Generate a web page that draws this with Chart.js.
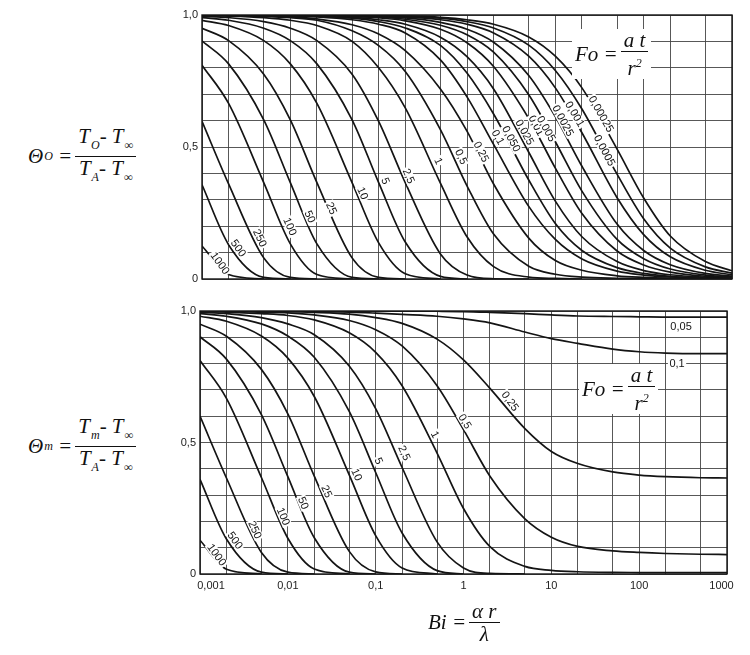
<!DOCTYPE html>
<html>
<head>
<meta charset="utf-8">
<title>Theta vs Bi for several Fo</title>
<script src="https://cdn.jsdelivr.net/npm/chart.js@4.4.1/dist/chart.umd.min.js"></script>
<style>
  html, body { margin: 0; padding: 0; background: #fff; }
  #page { position: relative; width: 750px; height: 655px; overflow: hidden; }
  .plot { position: absolute; left: 150px; width: 600px; }
  .eq { position: absolute; display: flex; align-items: center; white-space: nowrap;
        font-family: "Liberation Serif", "DejaVu Serif", serif; font-style: italic;
        font-size: 21px; color: #111; }
  .frac { display: inline-flex; flex-direction: column; align-items: center; margin-left: 3px; }
  .frac > span { display: block; line-height: 22px; padding: 0 3px; }
  .frac > span:first-child { border-bottom: 1px solid #111; }
  .eq sub { font-size: 12px; vertical-align: -6px; margin-left: 1px; }
  .eq sup { font-size: 12px; vertical-align: 8px; }
  .fo { background: #fff; padding: 0 3px; }
</style>
</head>
<body>
<div id="page">
  <div class="plot" style="top:0;height:292px"><canvas id="topChart"></canvas></div>
  <div class="plot" style="top:295px;height:360px"><canvas id="bottomChart"></canvas></div>

  <div class="eq" style="left:28px;top:125px">Θ<sub>O</sub>&nbsp;=<span class="frac"><span>T<sub>O</sub>-&nbsp;T<sub>∞</sub></span><span>T<sub>A</sub>-&nbsp;T<sub>∞</sub></span></span></div>
  <div class="eq" style="left:28px;top:415px">Θ<sub>m</sub>&nbsp;=<span class="frac"><span>T<sub>m</sub>-&nbsp;T<sub>∞</sub></span><span>T<sub>A</sub>-&nbsp;T<sub>∞</sub></span></span></div>
  <div class="eq" style="left:428px;top:600px">Bi&nbsp;=<span class="frac"><span>α r</span><span>λ</span></span></div>
  <div class="eq fo" style="left:572px;top:29px">Fo&nbsp;=<span class="frac"><span>a t</span><span>r<sup>2</sup></span></span></div>
  <div class="eq fo" style="left:579px;top:364px">Fo&nbsp;=<span class="frac"><span>a t</span><span>r<sup>2</sup></span></span></div>
</div>

<script>
// Bi values where the curves were read; they are also the vertical grid lines
const bi = [0.001, 0.002, 0.005, 0.01, 0.02, 0.05, 0.1, 0.2, 0.5, 1, 2, 5, 10, 20, 50, 100, 200, 500, 1000];
const decades = [0.001, 0.01, 0.1, 1, 10, 100, 1000];
const thetaTicks = [0, 0.1, 0.2, 0.3, 0.4, 0.5, 0.6, 0.7, 0.8, 0.9, 1];

// upper diagram: Theta_O, one array per Fo (values at the bi points)
const o1000 = [0.125, 0.017, 0];
const o500 = [0.357, 0.13, 0.006, 0];
const o250 = [0.597, 0.36, 0.08, 0.006, 0];
const o100 = [0.81, 0.665, 0.365, 0.133, 0.017, 0];
const o50 = [0.902, 0.815, 0.603, 0.365, 0.133, 0.006, 0];
const o25 = [0.95, 0.903, 0.776, 0.603, 0.365, 0.08, 0.006, 0];
const o10 = [0.98, 0.96, 0.903, 0.815, 0.665, 0.365, 0.137, 0.02, 0];
const o5 = [0.99, 0.98, 0.95, 0.903, 0.815, 0.603, 0.365, 0.14, 0.01, 0];
const o2_5 = [0.995, 0.99, 0.975, 0.95, 0.903, 0.776, 0.597, 0.365, 0.095, 0.015, 0.001, 0];
const o1 = [0.998, 0.996, 0.99, 0.98, 0.96, 0.9, 0.8, 0.648, 0.363, 0.16, 0.047, 0.007, 0.002, 0];
const o0_5 = [0.999, 0.998, 0.995, 0.99, 0.98, 0.94, 0.884, 0.786, 0.566, 0.353, 0.17, 0.048, 0.018, 0.007, 0.0025, 0.001, 0];
const o0_25 = [1, 0.999, 0.997, 0.993, 0.985, 0.963, 0.928, 0.865, 0.72, 0.56, 0.36, 0.155, 0.07, 0.033, 0.012, 0.006, 0.003, 0.0012, 0.0006];
const o0_1 = [1, 0.999, 0.998, 0.996, 0.993, 0.982, 0.965, 0.932, 0.83, 0.69, 0.51, 0.275, 0.15, 0.076, 0.03, 0.015, 0.0075, 0.003, 0.0015];
const o0_05 = [1, 1, 0.999, 0.998, 0.995, 0.988, 0.975, 0.951, 0.885, 0.78, 0.625, 0.375, 0.21, 0.108, 0.043, 0.021, 0.01, 0.004, 0.002];
const o0_025 = [1, 1, 0.999, 0.998, 0.996, 0.991, 0.982, 0.965, 0.916, 0.842, 0.72, 0.48, 0.295, 0.16, 0.066, 0.032, 0.016, 0.0065, 0.0032];
const o0_01 = [1, 1, 1, 0.999, 0.998, 0.994, 0.989, 0.978, 0.946, 0.895, 0.805, 0.608, 0.42, 0.248, 0.106, 0.053, 0.026, 0.0105, 0.0053];
const o0_005 = [1, 1, 1, 0.999, 0.998, 0.996, 0.992, 0.984, 0.961, 0.925, 0.859, 0.698, 0.52, 0.333, 0.15, 0.077, 0.038, 0.015, 0.0077];
const o0_0025 = [1, 1, 1, 1, 0.999, 0.997, 0.994, 0.989, 0.972, 0.946, 0.897, 0.771, 0.615, 0.427, 0.208, 0.108, 0.054, 0.021, 0.011];
const o0_001 = [1, 1, 1, 1, 1, 0.998, 0.996, 0.993, 0.982, 0.965, 0.932, 0.844, 0.724, 0.554, 0.308, 0.168, 0.084, 0.033, 0.016];
const o0_0005 = [1, 1, 1, 1, 1, 0.999, 0.998, 0.995, 0.988, 0.975, 0.951, 0.886, 0.79, 0.644, 0.397, 0.228, 0.117, 0.046, 0.022];
const o0_00025 = [1, 1, 1, 1, 1, 0.999, 0.998, 0.996, 0.991, 0.982, 0.965, 0.917, 0.844, 0.724, 0.492, 0.307, 0.163, 0.066, 0.031];

const topFo = ['1000', '500', '250', '100', '50', '25', '10', '5', '2,5', '1', '0,5', '0,25', '0,1',
  '0,050', '0,025', '0,01', '0,005', '0,0025', '0,001', '0,0005', '0,00025'];
const topCurves = [o1000, o500, o250, o100, o50, o25, o10, o5, o2_5, o1, o0_5, o0_25, o0_1,
  o0_05, o0_025, o0_01, o0_005, o0_0025, o0_001, o0_0005, o0_00025];
// where each Fo tag sits (Bi, Theta)
const topTagBi = [0.0016, 0.00258, 0.00453, 0.0099, 0.0167, 0.0293, 0.066, 0.119, 0.219, 0.477, 0.86, 1.45, 2.25,
  3.18, 4.5, 6.1, 7.9, 12.2, 16.6, 36, 33];
const topTagTheta = [0.06, 0.117, 0.155, 0.199, 0.236, 0.268, 0.325, 0.371, 0.39, 0.447, 0.463, 0.482, 0.537,
  0.531, 0.556, 0.581, 0.569, 0.6, 0.625, 0.487, 0.625];

// lower diagram: Theta_m
const m1000 = [0.128, 0.018, 0];
const m500 = [0.36, 0.133, 0.007, 0];
const m250 = [0.6, 0.365, 0.082, 0.007, 0];
const m100 = [0.812, 0.668, 0.367, 0.136, 0.019, 0];
const m50 = [0.902, 0.817, 0.606, 0.37, 0.138, 0.007, 0];
const m25 = [0.95, 0.904, 0.778, 0.609, 0.372, 0.086, 0.008, 0];
const m10 = [0.98, 0.961, 0.905, 0.821, 0.675, 0.377, 0.146, 0.023, 0];
const m5 = [0.99, 0.98, 0.951, 0.905, 0.824, 0.618, 0.386, 0.156, 0.013, 0];
const m2_5 = [0.995, 0.99, 0.975, 0.951, 0.91, 0.791, 0.629, 0.405, 0.122, 0.023, 0.002, 0];
const m1 = [0.998, 0.996, 0.99, 0.983, 0.966, 0.917, 0.843, 0.716, 0.46, 0.249, 0.104, 0.029, 0.014, 0.0085, 0.006, 0.0055, 0.005, 0.005, 0.005];
const m0_5 = [0.999, 0.999, 0.996, 0.993, 0.985, 0.964, 0.929, 0.867, 0.716, 0.549, 0.372, 0.21, 0.14, 0.105, 0.088, 0.082, 0.078, 0.075, 0.074];
const m0_25 = [1, 1, 0.999, 0.998, 0.995, 0.988, 0.975, 0.953, 0.893, 0.814, 0.706, 0.553, 0.466, 0.42, 0.388, 0.376, 0.37, 0.366, 0.365];
const m0_1 = [1, 1, 1, 0.999, 0.998, 0.996, 0.992, 0.987, 0.98, 0.97, 0.955, 0.92, 0.895, 0.877, 0.855, 0.845, 0.84, 0.838, 0.838];
const m0_05 = [1, 1, 1, 1, 1, 1, 1, 0.9995, 0.999, 0.998, 0.995, 0.99, 0.985, 0.981, 0.979, 0.978, 0.977, 0.977, 0.977];

const bottomFo = ['1000', '500', '250', '100', '50', '25', '10', '5', '2,5', '1', '0,5', '0,25', '0,1', '0,05'];
const bottomCurves = [m1000, m500, m250, m100, m50, m25, m10, m5, m2_5, m1, m0_5, m0_25, m0_1, m0_05];
const bottomTagBi = [0.00155, 0.00251, 0.00423, 0.0089, 0.015, 0.0277, 0.061, 0.108, 0.212, 0.475, 1.04, 3.4, 270, 300];
const bottomTagTheta = [0.073, 0.128, 0.168, 0.219, 0.27, 0.314, 0.378, 0.43, 0.46, 0.53, 0.58, 0.657, 0.8, 0.942];
const bottomFlatTags = ['0,1', '0,05'];

const ink = '#141414';
const gridInk = '#454545';
const tickFont = { family: '"Liberation Sans", Arial, sans-serif', size: 11 };

function toPoints(values) {
  return values.map((v, i) => ({ x: bi[i], y: v }));
}

// first and last labels sit inside the frame, like the printed chart
function biLabel(v) {
  const s = String(v).replace('.', ',');
  if (v === 0.001) return '\u2002\u2002\u2002\u2002' + s;
  if (v === 1000) return s + '\u2002\u2002';
  return s;
}

// outer frame of the plot area
const frame = {
  id: 'frame',
  afterDraw(chart) {
    const { ctx, chartArea: a } = chart;
    ctx.save();
    ctx.strokeStyle = ink;
    ctx.lineWidth = 1.4;
    ctx.strokeRect(a.left, a.top, a.right - a.left, a.bottom - a.top);
    ctx.restore();
  }
};

// direction of a curve at a given pixel height
function curveAngle(points, py) {
  for (let i = 0; i < points.length - 1; i++) {
    const p = points[i], q = points[i + 1];
    if (py >= p.y && py <= q.y) return Math.atan2(q.y - p.y, q.x - p.x);
  }
  return 0;
}

// Fo tags written along the curves
const curveTags = {
  id: 'curveTags',
  afterDatasetsDraw(chart, args, opts) {
    const { ctx } = chart;
    const xs = chart.scales.x, ys = chart.scales.y;
    ctx.save();
    ctx.font = '11px "Liberation Sans", Arial, sans-serif';
    ctx.textAlign = 'center';
    ctx.textBaseline = 'middle';
    opts.text.forEach((t, i) => {
      const px = xs.getPixelForValue(opts.bi[i]);
      const py = ys.getPixelForValue(opts.theta[i]);
      const flat = opts.flat.includes(t);
      const angle = flat ? 0 : Math.max(curveAngle(chart.getDatasetMeta(i).data, py), 0.95);
      const w = ctx.measureText(t).width;
      ctx.save();
      ctx.translate(px, py);
      ctx.rotate(angle);
      ctx.fillStyle = '#fff';
      ctx.fillRect(-w / 2 - 1.5, -5, w + 3, 10);
      ctx.fillStyle = ink;
      ctx.fillText(t, 0, 0.5);
      ctx.restore();
    });
    ctx.restore();
  }
};

function makeChart(id, names, curves, tags, box) {
  return new Chart(document.getElementById(id), {
    type: 'line',
    data: {
      datasets: curves.map((c, i) => ({
        label: 'Fo = ' + names[i],
        data: toPoints(c),
        borderColor: ink,
        borderWidth: 1.7,
        pointRadius: 0,
        cubicInterpolationMode: 'monotone',
        fill: false
      }))
    },
    options: {
      responsive: true,
      maintainAspectRatio: false,
      animation: false,
      events: [],
      layout: { autoPadding: false, padding: box.padding },
      plugins: {
        legend: { display: false },
        tooltip: { enabled: false },
        curveTags: tags
      },
      scales: {
        x: {
          type: 'logarithmic',
          min: 0.001,
          max: 1000,
          afterBuildTicks: s => { s.ticks = bi.map(v => ({ value: v })); },
          afterFit: s => { s.height = box.xHeight; },
          border: { display: false },
          grid: { color: gridInk, lineWidth: 0.9, drawTicks: false },
          ticks: {
            display: box.xHeight > 0,
            autoSkip: false,
            maxRotation: 0,
            padding: 5,
            color: '#222',
            font: tickFont,
            callback: v => decades.includes(v) ? biLabel(v) : ''
          }
        },
        y: {
          type: 'linear',
          min: 0,
          max: 1,
          afterBuildTicks: s => { s.ticks = thetaTicks.map(v => ({ value: v })); },
          afterFit: s => { s.width = box.yWidth; },
          border: { display: false },
          grid: { color: gridInk, lineWidth: 0.9, drawTicks: false },
          ticks: {
            padding: 4,
            color: '#222',
            font: tickFont,
            callback: v => v === 1 ? '1,0' : v === 0.5 ? '0,5' : v === 0 ? '0' : ''
          }
        }
      }
    },
    plugins: [frame, curveTags]
  });
}

makeChart('topChart', topFo, topCurves,
  { text: topFo, bi: topTagBi, theta: topTagTheta, flat: [] },
  { padding: { left: 0, top: 15, right: 18, bottom: 13 }, yWidth: 52, xHeight: 0 });

makeChart('bottomChart', bottomFo, bottomCurves,
  { text: bottomFo, bi: bottomTagBi, theta: bottomTagTheta, flat: bottomFlatTags },
  { padding: { left: 0, top: 16, right: 23, bottom: 61 }, yWidth: 50, xHeight: 20 });
</script>
</body>
</html>
